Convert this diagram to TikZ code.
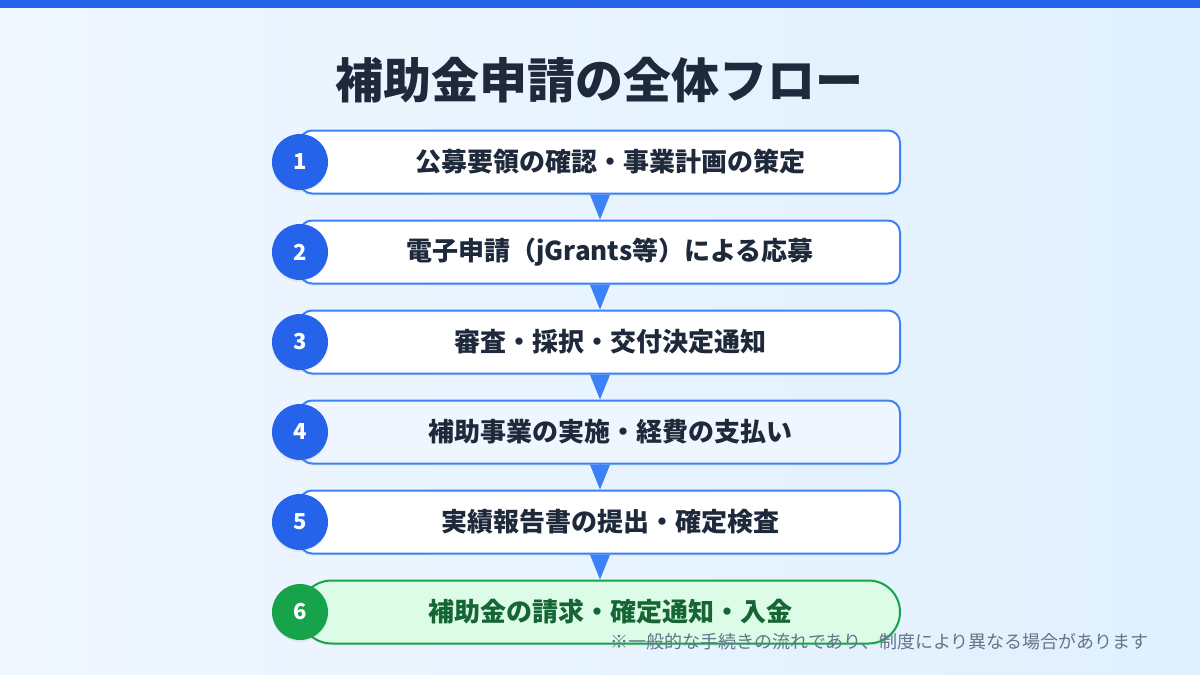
\documentclass[tikz,border=0pt]{standalone}
\usepackage{fontspec}
\setmainfont{Noto Sans CJK JP}
\newfontfamily\jp{Noto Sans CJK JP}
\usetikzlibrary{arrows.meta,shadows}
\definecolor{topbar}{HTML}{2563EB}
\definecolor{bgA}{HTML}{F0F7FF}
\definecolor{bgB}{HTML}{E0F0FD}
\definecolor{boxline}{HTML}{3B82F6}
\definecolor{txt}{HTML}{1E293B}
\definecolor{circblue}{HTML}{2563EB}
\definecolor{circgreen}{HTML}{16A34A}
\definecolor{greenfill}{HTML}{DCFCE7}
\definecolor{greentxt}{HTML}{166534}
\definecolor{notegray}{HTML}{64748B}
\definecolor{box4fill}{HTML}{F0F6FF}
\tikzset{
  stepbox/.style={draw=boxline, line width=2pt, fill=white, rounded corners=12pt,
    minimum width=600pt, minimum height=63pt, inner sep=0pt,
    drop shadow={shadow xshift=0pt, shadow yshift=-2pt, opacity=0.08}},
  stepnum/.style={circle, fill=circblue, minimum size=56pt, inner sep=0pt,
    text=white, font=\jp\bfseries\fontsize{22pt}{26pt}\selectfont,
    drop shadow={shadow xshift=0pt, shadow yshift=-2pt, opacity=0.12}},
  steptext/.style={text=txt, font=\jp\bfseries\fontsize{26pt}{30pt}\selectfont, inner sep=0pt},
  flowarrow/.style={draw=boxline, line width=1pt, -{Triangle[width=20pt,length=25pt]}, shorten <=-1pt},
}
\begin{document}
\begin{tikzpicture}[x=1pt,y=-1pt]
\useasboundingbox (0,0) rectangle (1200,675);
\shade[left color=bgA, right color=bgB] (0,0) rectangle (1200,675);
\fill[topbar] (0,0) rectangle (1200,8);
\node[text=txt, font=\jp\bfseries\fontsize{48pt}{54pt}\selectfont, inner sep=0pt] (title) at (599,80) {補助金申請の全体フロー};

\node[stepbox] (b1) at (600,162) {};
\node[stepbox] (b2) at (600,252) {};
\node[stepbox] (b3) at (600,342) {};
\node[stepbox, fill=box4fill] (b4) at (600,432) {};
\node[stepbox] (b5) at (600,522) {};
\node[stepbox, draw=circgreen, fill=greenfill, rounded corners=31.5pt] (b6) at (600,612) {};

\draw[flowarrow] (b1.south) -- (b2.north);
\draw[flowarrow] (b2.south) -- (b3.north);
\draw[flowarrow] (b3.south) -- (b4.north);
\draw[flowarrow] (b4.south) -- (b5.north);
\draw[flowarrow] (b5.south) -- (b6.north);

\node[steptext] (t1) at (610,162) {公募要領の確認・事業計画の策定};
\node[steptext] (t2) at (610,252) {電子申請（jGrants等）による応募};
\node[steptext] (t3) at (610,342) {審査・採択・交付決定通知};
\node[steptext] (t4) at (610,432) {補助事業の実施・経費の支払い};
\node[steptext] (t5) at (610,522) {実績報告書の提出・確定検査};
\node[steptext, text=greentxt] (t6) at (610,612) {補助金の請求・確定通知・入金};

\node[stepnum] (n1) at (300,162) {1};
\node[stepnum] (n2) at (300,252) {2};
\node[stepnum] (n3) at (300,342) {3};
\node[stepnum] (n4) at (300,432) {4};
\node[stepnum] (n5) at (300,522) {5};
\node[stepnum, fill=circgreen] (n6) at (300,612) {6};

\node[anchor=east, text=notegray, font=\jp\fontsize{18pt}{22pt}\selectfont, inner sep=0pt] (note) at (1149,642) {※一般的な手続きの流れであり、制度により異なる場合があります};
\end{tikzpicture}
\end{document}
